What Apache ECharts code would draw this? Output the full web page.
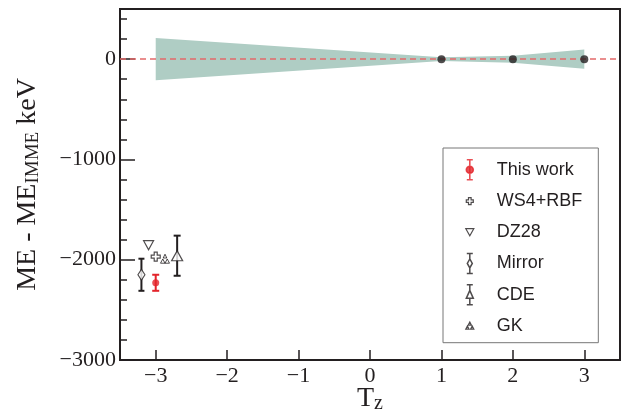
<!DOCTYPE html>
<html><head><meta charset="utf-8">
<script src="https://cdn.jsdelivr.net/npm/echarts@6/dist/echarts.min.js"></script>
<style>html,body{margin:0;padding:0;background:#fff}#c{width:630px;height:412px}</style>
</head><body><div id="c"></div>
<script>
// ---- data ----
const xTickValues = [-3, -2, -1, 0, 1, 2, 3];
const yTickValues = [-3000, -2000, -1000, 0];
const yMinorTickValues = [-2800, -2600, -2400, -2200, -1800, -1600, -1400, -1200, -800, -600, -400, -200, 200, 400];
const immeTz = [1, 2, 3];
const immeVal = [0, 0, 0];
const bandTz = [-3, 1, 2, 3];
const bandHalfWidth = [210, 18, 35, 95];
// [Tz, ME - ME_IMME, error]
const thisWork = [[-3.0, -2230, 80]];
const ws4rbf = [[-3.0, -1970]];
const dz28 = [[-3.1, -1855]];
const mirror = [[-3.2, -2150, 160]];
const cde = [[-2.7, -1960, 200]];
const gk = [[-2.87, -1990]];

const INK = '#231f20';
const RED = '#e3242b';
const SERIF = 'Liberation Serif';
const SANS = 'Liberation Sans';

// symbols
const symCross = 'path://M3,0H6V3H9V6H6V9H3V6H0V3H3Z';
const symDown = 'path://M0,0H10L5,9Z';
const symGK = 'path://M5,0L7,4H3Z M2.5,5L5,9.5H0Z M7.5,5L10,9.5H5Z';

// legend icons (frame 14 x 22)
const F = 'M0,0 M14,22 ';
const icThis = 'path://' + F + 'M4,1H10 M7,1V21 M4,21H10 M3.5,11a3.5,3.5 0 1,0 7,0a3.5,3.5 0 1,0 -7,0Z';
const icCross = 'path://' + F + 'M5.7,7.5H8.3V9.7H10.5V12.3H8.3V14.5H5.7V12.3H3.5V9.7H5.7Z';
const icDown = 'path://' + F + 'M3,7.5H11L7,14.5Z';
const icMirror = 'path://' + F + 'M4,1H10 M7,1V6.5 M7,15.5V21 M4,21H10 M7,6.5L9.5,11L7,15.5L4.5,11Z';
const icCDE = 'path://' + F + 'M4,1H10 M7,1V6.5 M7,14.5V21 M4,21H10 M7,6.5L10.5,14.5H3.5Z';
const icGK = 'path://' + F + 'M7,7L8.6,10H5.4Z M4.6,11L6.2,14H3Z M9.4,11L11,14H7.8Z';

function errBar(color, cap, lw) {
  return function (params, api) {
    const x = api.value(0), y = api.value(1), e = api.value(2);
    const t = api.coord([x, y + e]), b = api.coord([x, y - e]);
    const st = {stroke: color, lineWidth: lw};
    return {type: 'group', children: [
      {type: 'line', shape: {x1: t[0], y1: t[1], x2: b[0], y2: b[1]}, style: st},
      {type: 'line', shape: {x1: t[0] - cap / 2, y1: t[1], x2: t[0] + cap / 2, y2: t[1]}, style: st},
      {type: 'line', shape: {x1: b[0] - cap / 2, y1: b[1], x2: b[0] + cap / 2, y2: b[1]}, style: st}
    ]};
  };
}
const minus = v => String(v).replace('-', '\u2212');

const bandData = bandTz.map((t, i) => [t, bandHalfWidth[i]]);

const chart = echarts.init(document.getElementById('c'), null, {renderer: 'canvas'});
chart.setOption({
  animation: false,
  backgroundColor: '#fff',
  grid: {left: 120, right: 10, top: 9, bottom: 52, containLabel: false, outerBoundsMode: 'none',
    show: true, borderColor: INK, borderWidth: 2, backgroundColor: 'transparent'},
  xAxis: {
    type: 'value', min: -3.5, max: 3.5,
    name: '{m|T}{s|z}', nameLocation: 'middle', nameGap: 24, nameMoveOverlap: false,
    nameTextStyle: {rich: {
      m: {fontFamily: SERIF, fontSize: 28, lineHeight: 30, color: INK},
      s: {fontFamily: SERIF, fontSize: 20, lineHeight: 11, color: INK, verticalAlign: 'bottom'}
    }},
    axisLine: {show: true, onZero: false, lineStyle: {color: INK, width: 2}},
    axisTick: {show: true, inside: true, length: 10, customValues: xTickValues, lineStyle: {color: INK, width: 1.5}},
    axisLabel: {show: true, customValues: xTickValues, formatter: minus, margin: 5,
      fontFamily: SERIF, fontSize: 22, color: INK},
    splitLine: {show: false}
  },
  yAxis: [{
    type: 'value', min: -3000, max: 500,
    name: '{m|ME - ME}{s|IMME}{m| keV}', nameLocation: 'middle', nameRotate: 90, nameGap: 77, nameMoveOverlap: false,
    nameTextStyle: {rich: {
      m: {fontFamily: SERIF, fontSize: 28, lineHeight: 30, color: INK},
      s: {fontFamily: SERIF, fontSize: 19, lineHeight: 11, color: INK, verticalAlign: 'bottom'}
    }},
    axisLine: {show: true, onZero: false, lineStyle: {color: INK, width: 2}},
    axisTick: {show: true, inside: true, length: 15, customValues: yTickValues, lineStyle: {color: INK, width: 1.5}},
    axisLabel: {show: true, customValues: yTickValues, formatter: minus, margin: 4,
      fontFamily: SERIF, fontSize: 22, color: INK},
    splitLine: {show: false}
  }, {
    type: 'value', min: -3000, max: 500, position: 'left',
    axisLine: {show: false, onZero: false},
    axisTick: {show: true, inside: true, length: 7, customValues: yMinorTickValues, lineStyle: {color: INK, width: 1.5}},
    axisLabel: {show: false},
    splitLine: {show: false}
  }],
  legend: {
    show: true, orient: 'vertical', left: 443, top: 148,
    padding: [10, 16, 5, 19],
    itemWidth: 44, itemHeight: 22, itemGap: 7.9,
    borderColor: '#777', borderWidth: 1, backgroundColor: '#fff',
    selectedMode: false,
    textStyle: {fontFamily: SANS, fontSize: 18, color: INK, lineHeight: 20},
    data: [
      {name: 'This work', icon: icThis, itemStyle: {color: RED, borderColor: RED, borderWidth: 1.6}},
      {name: 'WS4+RBF', icon: icCross, itemStyle: {color: '#fff', borderColor: INK, borderWidth: 1.2}},
      {name: 'DZ28', icon: icDown, itemStyle: {color: '#fff', borderColor: INK, borderWidth: 1.2}},
      {name: 'Mirror', icon: icMirror, itemStyle: {color: '#fff', borderColor: INK, borderWidth: 1.5}},
      {name: 'CDE', icon: icCDE, itemStyle: {color: '#fff', borderColor: INK, borderWidth: 1.5}},
      {name: 'GK', icon: icGK, itemStyle: {color: '#fff', borderColor: INK, borderWidth: 1.2}}
    ]
  },
  series: [
    {
      type: 'custom', name: 'band', silent: true, z: 1,
      data: bandData, encode: {x: 0, y: 1},
      renderItem: function (params, api) {
        if (params.dataIndex !== 0) return null;
        const up = bandData.map(d => api.coord([d[0], d[1]]));
        const lo = bandData.slice().reverse().map(d => api.coord([d[0], -d[1]]));
        return {type: 'polygon', shape: {points: up.concat(lo)}, style: {fill: '#afcdc4'}};
      },
      markLine: {silent: true, symbol: 'none', label: {show: false}, z: 2,
        lineStyle: {color: '#e36a6a', type: [6, 4], width: 1.5},
        data: [{yAxis: 0}]}
    },
    {type: 'scatter', name: 'IMME', data: immeTz.map((t, i) => [t, immeVal[i]]), symbol: 'circle', symbolSize: 8,
      itemStyle: {color: INK}, z: 5, silent: true},
    {type: 'custom', data: mirror, encode: {x: 0, y: 1}, renderItem: errBar(INK, 6, 2), z: 3, silent: true},
    {type: 'custom', data: cde, encode: {x: 0, y: 1}, renderItem: errBar(INK, 7, 2), z: 3, silent: true},
    {type: 'custom', data: thisWork, encode: {x: 0, y: 1}, renderItem: errBar(RED, 7, 2), z: 3, silent: true},
    {type: 'scatter', name: 'Mirror', data: mirror.map(d => [d[0], d[1]]), symbol: 'diamond', symbolSize: [7, 11],
      itemStyle: {color: '#fff', borderColor: INK, borderWidth: 1.2}, z: 4, silent: true},
    {type: 'scatter', name: 'CDE', data: cde.map(d => [d[0], d[1]]), symbol: 'triangle', symbolSize: [11, 10],
      itemStyle: {color: '#fff', borderColor: INK, borderWidth: 1.2}, z: 4, silent: true},
    {type: 'scatter', name: 'DZ28', data: dz28, symbol: symDown, symbolSize: [10, 9],
      itemStyle: {color: '#fff', borderColor: INK, borderWidth: 1.2}, z: 4, silent: true},
    {type: 'scatter', name: 'WS4+RBF', data: ws4rbf, symbol: symCross, symbolSize: [9, 9],
      itemStyle: {color: '#fff', borderColor: INK, borderWidth: 1.2}, z: 4, silent: true},
    {type: 'scatter', name: 'GK', data: gk, symbol: symGK, symbolSize: [9, 9],
      itemStyle: {color: '#fff', borderColor: INK, borderWidth: 1}, z: 4, silent: true},
    {type: 'scatter', name: 'This work', data: thisWork.map(d => [d[0], d[1]]), symbol: 'circle', symbolSize: 7,
      itemStyle: {color: RED, borderColor: RED, borderWidth: 0}, z: 6, silent: true}
  ]
});
</script></body></html>
